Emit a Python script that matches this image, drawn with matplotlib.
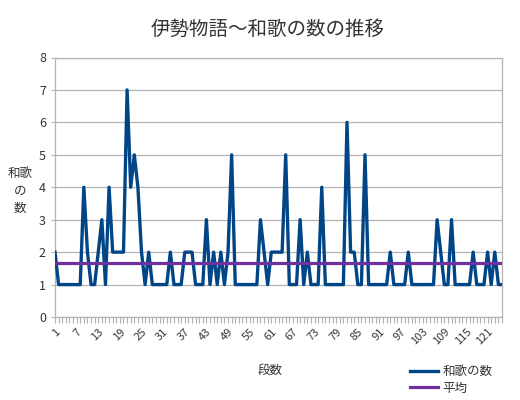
import matplotlib
matplotlib.use("Agg")
import matplotlib.pyplot as plt
from matplotlib.ticker import MultipleLocator, FixedLocator

plt.rcParams['font.family'] = ['Noto Sans CJK JP', 'DejaVu Sans']

# episode (段) numbers and number of waka per episode
dan = list(range(1, 126))
waka = [2, 1, 1, 1, 1, 1, 1, 1, 4, 2,
        1, 1, 2, 3, 1, 4, 2, 2, 2, 2,
        7, 4, 5, 4, 2, 1, 2, 1, 1, 1,
        1, 1, 2, 1, 1, 1, 2, 2, 2, 1,
        1, 1, 3, 1, 2, 1, 2, 1, 2, 5,
        1, 1, 1, 1, 1, 1, 1, 3, 2, 1,
        2, 2, 2, 2, 5, 1, 1, 1, 3, 1,
        2, 1, 1, 1, 4, 1, 1, 1, 1, 1,
        1, 6, 2, 2, 1, 1, 5, 1, 1, 1,
        1, 1, 1, 2, 1, 1, 1, 1, 2, 1,
        1, 1, 1, 1, 1, 1, 3, 2, 1, 1,
        3, 1, 1, 1, 1, 1, 2, 1, 1, 1,
        2, 1, 2, 1, 1]
average = 1.672
tick_labels = list(range(1, 126, 6))

fig = plt.figure(figsize=(5.2, 4.0), dpi=100)
ax = fig.add_axes([55 / 520, 83 / 400, 447 / 520, 259.5 / 400])

ax.plot(dan, waka, color='#004586', linewidth=2.4, label='和歌の数', zorder=3)
ax.plot(dan, [average] * len(dan), color='#7030a0', linewidth=2.3, label='平均', zorder=4)

ax.set_xlim(1, 125)
ax.set_ylim(0, 8)
ax.yaxis.set_major_locator(MultipleLocator(1))
ax.grid(axis='y', color='#b3b3b3', linewidth=0.9)
ax.set_axisbelow(True)
for s in ax.spines.values():
    s.set_color('#b3b3b3')
    s.set_linewidth(0.9)

ax.xaxis.set_major_locator(FixedLocator(tick_labels))
ax.xaxis.set_minor_locator(MultipleLocator(1))
ax.set_xticklabels([str(t) for t in tick_labels], rotation=45, ha='right',
                   va='top', rotation_mode='anchor', fontsize=8, color='#333333')
ax.tick_params(axis='x', which='both', length=4, color='#b3b3b3', width=0.8, pad=3)
ax.tick_params(axis='y', length=3, color='#b3b3b3', labelsize=9, labelcolor='#333333')

fig.text(268 / 520, 1 - 29 / 400, '伊勢物語～和歌の数の推移', ha='center', va='center',
         fontsize=14, color='#333333')
fig.text(270 / 520, 1 - 370 / 400, '段数', ha='center', va='center', fontsize=9,
         color='#333333')
fig.text(20 / 520, 1 - 191 / 400, '和歌\nの\n数', ha='center', va='center', fontsize=9,
         color='#333333', linespacing=1.45)

fig.legend(loc='center left', bbox_to_anchor=(405 / 520, 1 - 380 / 400), frameon=False,
           fontsize=9, handlelength=2.2, handletextpad=0.4, labelspacing=0.25,
           borderaxespad=0, labelcolor='#333333')

fig.savefig('out.png', dpi=100)
